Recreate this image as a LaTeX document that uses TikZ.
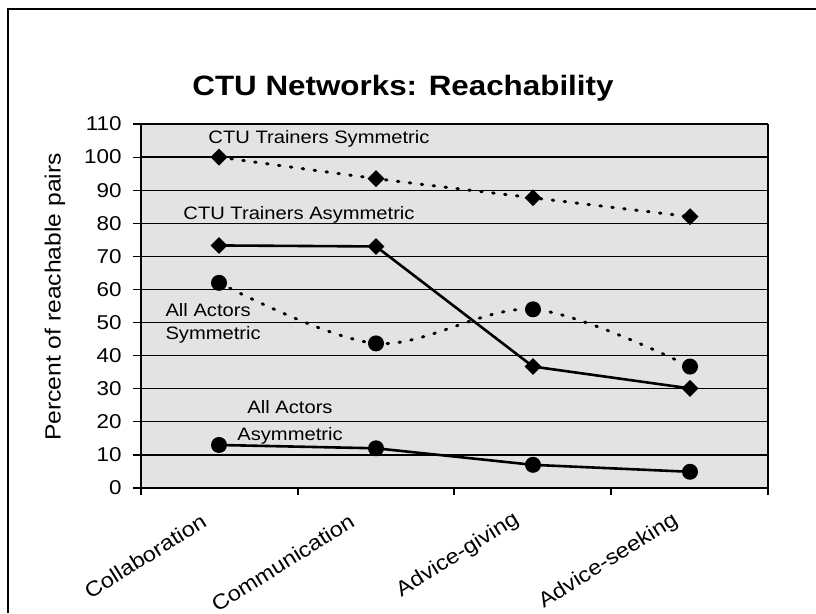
\documentclass[tikz,border=0pt]{standalone}
\usepackage{fontspec}
\setmainfont{Liberation Sans}[FakeStretch=1.12]
\usetikzlibrary{shapes.geometric}
\begin{document}
\begin{tikzpicture}[x=1pt,y=-1pt,
  dia/.style={diamond, fill=black, inner sep=0pt, minimum width=17pt, minimum height=17pt},
  dotm/.style={circle, fill=black, inner sep=0pt, minimum size=16pt},
  solidser/.style={line width=2.6pt},
  dotser/.style={line width=3pt, dash pattern=on 1.5pt off 10.5pt, line cap=round},
  gridline/.style={line width=1.3pt},
  lbl/.style={font=\fontsize{18}{23}\selectfont},
  ticklbl/.style={font=\fontsize{20}{22}\selectfont},
  catlbl/.style={font=\fontsize{21}{23}\selectfont, rotate=32, anchor=base east}
]
\useasboundingbox (0,0) rectangle (816,613);
% outer frame
\draw[line width=1.3pt] (8,613) -- (8,9) -- (816,9);
% title
\node[font=\fontsize{28}{32}\selectfont\bfseries] (title) at (403,88) {CTU Networks: Reachability};
% plot area
\fill[black!11] (141,124) rectangle (768,488);
\begin{scope}[shift={(0,488)}, y=3.309pt]
  \foreach \v in {10,20,...,100} {\draw[gridline] (141,\v) -- (768,\v);}
  \draw[line width=2pt] (141,110) -- (768,110);
  \draw[line width=2.5pt] (768,0) -- (768,110);
  \draw[line width=1.5pt] (141,0) -- (141,110);
  \draw[line width=1.8pt] (141,0) -- (768,0);
  \foreach \v in {0,10,...,110} {
    \draw[line width=1.2pt] (133,\v) -- (141,\v);
    \node[ticklbl, anchor=east] (t\v) at (125,\v) {\v};
  }
  \foreach \x in {141,298,454,611,768} {\draw[line width=1.2pt] (\x,0) -- ++(0pt,-7pt);}
  % data points
  \coordinate (s1) at (219,100);  \coordinate (s2) at (376,93.5);
  \coordinate (s3) at (533,87.7); \coordinate (s4) at (690,82);
  \coordinate (a1) at (219,73.3); \coordinate (a2) at (376,73.0);
  \coordinate (a3) at (533,36.7); \coordinate (a4) at (690,30.1);
  \coordinate (p1) at (219,62);   \coordinate (p2) at (376,43.7);
  \coordinate (p3) at (533,54);   \coordinate (p4) at (690,36.7);
  \coordinate (q1) at (219,13);   \coordinate (q2) at (376,12);
  \coordinate (q3) at (533,7);    \coordinate (q4) at (690,4.9);
\end{scope}
% series labels
\node[lbl] (l1) at (319,139) {CTU Trainers Symmetric};
\node[lbl] (l2) at (299,215) {CTU Trainers Asymmetric};
\node[lbl, align=left, anchor=west] (l3) at (162,323) {All Actors\\Symmetric};
\node[lbl, align=center, font=\fontsize{18}{27}\selectfont] (l4) at (290,422) {All Actors\\Asymmetric};
% lines
\draw[dotser] plot[smooth, tension=0.4] coordinates {(s1) (s2) (s3) (s4)};
\draw[solidser] (a1) -- (a2) -- (a3) -- (a4);
\draw[dotser] plot[smooth, tension=0.55] coordinates {(p1) (p2) (p3) (p4)};
\draw[solidser] (q1) -- (q2) -- (q3) -- (q4);
% markers
\foreach \n in {s1,s2,s3,s4,a1,a2,a3,a4} {\node[dia] (m\n) at (\n) {};}
\foreach \n in {p1,p2,p3,p4,q1,q2,q3,q4} {\node[dotm] (m\n) at (\n) {};}
% axis title and categories
\node[font=\fontsize{22}{24}\selectfont, rotate=90] (ytitle) at (55,297) {Percent of reachable pairs};
\node[catlbl] (c1) at (211,524) {Collaboration};
\node[catlbl] (c2) at (359,524) {Communication};
\node[catlbl] (c3) at (523,521) {Advice-giving};
\node[catlbl] (c4) at (682,522) {Advice-seeking};
\end{tikzpicture}
\end{document}
